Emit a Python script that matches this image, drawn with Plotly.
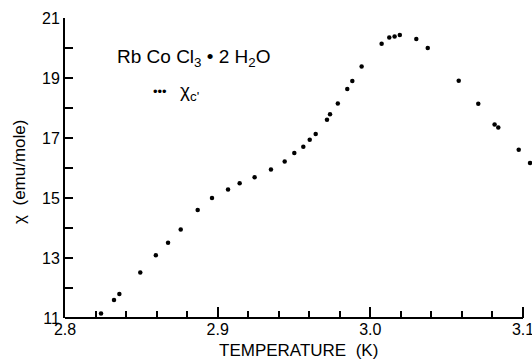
import plotly.graph_objects as go

temperature_K = [2.8236, 2.8321, 2.8356, 2.8493, 2.8595, 2.8675, 2.8758, 2.8869, 2.8963,
                 2.9068, 2.9144, 2.9242, 2.9349, 2.9439, 2.9502, 2.9561, 2.9603, 2.9642,
                 2.9716, 2.9736, 2.9787, 2.9849, 2.9882, 2.9943, 3.0074, 3.0124, 3.0159,
                 3.0193, 3.0301, 3.0376, 3.0579, 3.0707, 3.0814, 3.0838, 3.0972, 3.1046]
chi_emu_per_mole = [11.15, 11.60, 11.80, 12.52, 13.09, 13.51, 13.95, 14.60, 15.00,
                    15.28, 15.49, 15.69, 15.95, 16.22, 16.50, 16.71, 16.94, 17.13,
                    17.61, 17.79, 18.15, 18.63, 18.90, 19.38, 20.14, 20.35, 20.38,
                    20.43, 20.30, 20.00, 18.91, 18.14, 17.45, 17.35, 16.61, 16.17]

x_tick_vals = [2.8, 2.9, 3.0, 3.1]
x_tick_text = ["2.8", "2.9", "3.0", "3.1"]
y_tick_vals = [11, 13, 15, 17, 19, 21]
y_tick_text = ["11", "13", "15", "17", "19", "21"]

FONT = "Liberation Sans, Arial, sans-serif"

# plot area spans 65..532 px; the drawn axis (2.8..3.1) occupies 65..523 px,
# and the scale continues to the page edge so the last point (past 3.1) stays visible.
X_MIN, X_MAX = 2.8, 3.1
AXIS_FRAC = 458 / 467
X_VIEW_MAX = X_MIN + (X_MAX - X_MIN) / AXIS_FRAC

fig = go.Figure()
fig.add_trace(go.Scatter(
    x=temperature_K, y=chi_emu_per_mole, mode="markers",
    marker=dict(size=4.5, color="black"),
    cliponaxis=False, showlegend=False,
))

fig.update_layout(
    width=532, height=360,
    margin=dict(l=65, r=0, t=18, b=42, autoexpand=False),
    paper_bgcolor="white", plot_bgcolor="white",
    font=dict(family=FONT, color="black", size=16),
    xaxis=dict(
        range=[X_MIN, X_VIEW_MAX],
        showgrid=False, zeroline=False, automargin=False, showline=False,
        tickmode="array", tickvals=x_tick_vals, ticktext=x_tick_text,
        ticks="inside", ticklen=11, tickwidth=2, tickcolor="black",
        minor=dict(dtick=0.02, tick0=2.8, ticks="inside", ticklen=7, tickwidth=2, tickcolor="black", showgrid=False),
        tickfont=dict(size=16), ticklabeloverflow="allow",
    ),
    yaxis=dict(
        range=[11, 21], showgrid=False, zeroline=False, automargin=False,
        showline=True, linecolor="black", linewidth=2,
        tickmode="array", tickvals=y_tick_vals, ticktext=y_tick_text,
        ticks="inside", ticklen=8, tickwidth=2, tickcolor="black",
        minor=dict(dtick=1, tick0=11, ticks="inside", ticklen=8, tickwidth=2, tickcolor="black", showgrid=False),
        tickfont=dict(size=16),
    ),
    shapes=[
        dict(type="line", xref="x", yref="paper", x0=X_MIN, x1=X_MAX, y0=0, y1=0,
             line=dict(color="black", width=2), layer="above"),
    ],
    annotations=[
        dict(xref="paper", yref="paper", x=0.499, y=-0.107, xanchor="center", yanchor="middle",
             text="TEMPERATURE  (K)", showarrow=False, font=dict(size=17, family=FONT)),
        dict(xref="paper", yref="paper", x=-0.0964, y=0.487, xanchor="center", yanchor="middle",
             text="χ  (emu/mole)", textangle=-90, showarrow=False, font=dict(size=17, family=FONT)),
        dict(xref="paper", yref="paper", x=0.107, y=0.867, xanchor="left", yanchor="middle",
             text="Rb Co Cl<sub>3</sub> • 2 H<sub>2</sub>O", showarrow=False,
             font=dict(size=19, family=FONT)),
        dict(xref="paper", yref="paper", x=0.184, y=0.755, xanchor="left", yanchor="middle",
             text="•••", showarrow=False, font=dict(size=13, family=FONT)),
        dict(xref="paper", yref="paper", x=0.241, y=0.755, xanchor="left", yanchor="middle",
             text="χ<sub>c'</sub>", showarrow=False, font=dict(size=19, family=FONT)),
    ],
)

fig.write_html(
    "out.html",
    config={"displayModeBar": False},
    post_script="document.body.style.margin='0';document.body.style.overflow='hidden';"
                "document.documentElement.style.overflow='hidden';",
)
